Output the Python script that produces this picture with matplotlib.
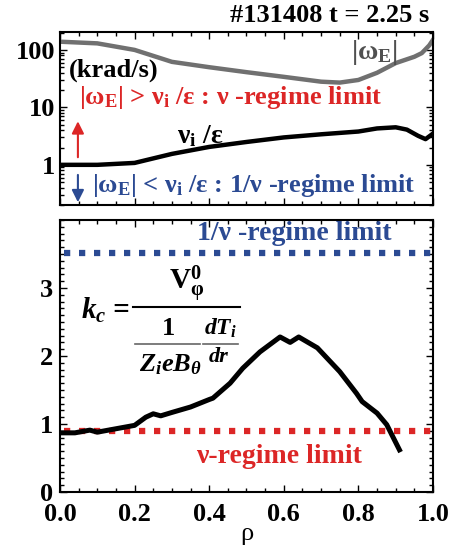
import numpy as np
import matplotlib
matplotlib.use("Agg")
import matplotlib.pyplot as plt
from matplotlib.ticker import MultipleLocator, LogLocator, NullFormatter

plt.rcParams['font.family'] = ['Liberation Serif', 'DejaVu Serif']
plt.rcParams['font.weight'] = 'bold'
plt.rcParams['mathtext.fontset'] = 'stix'

# top panel: |omega_E| and nu_i/eps (krad/s)
rho_we = [0.0, 0.1, 0.2, 0.3, 0.4, 0.5, 0.6, 0.7, 0.75, 0.8, 0.85, 0.9, 0.95, 0.97, 0.99, 1.0]
omega_e = [139, 130, 100, 62, 50, 41, 34, 28, 27, 30, 40, 59, 76, 88, 120, 150]

rho_nu = [0.0, 0.1, 0.2, 0.3, 0.4, 0.5, 0.6, 0.7, 0.8, 0.85, 0.9, 0.93, 0.96, 0.98, 1.0]
nu_eps = [1.0, 1.0, 1.08, 1.55, 2.05, 2.5, 3.0, 3.4, 3.8, 4.3, 4.5, 4.1, 3.2, 2.8, 3.5]

# bottom panel: k_c
rho_kc = [0.0, 0.04, 0.08, 0.1, 0.15, 0.2, 0.23, 0.25, 0.27, 0.3, 0.35, 0.4, 0.41,
          0.456, 0.49, 0.536, 0.59, 0.617, 0.64, 0.69, 0.75, 0.795, 0.81, 0.85, 0.876, 0.91]
kc = [0.87, 0.87, 0.91, 0.88, 0.93, 0.98, 1.1, 1.15, 1.12, 1.17, 1.25, 1.36, 1.38,
      1.6, 1.82, 2.06, 2.28, 2.2, 2.28, 2.12, 1.77, 1.45, 1.33, 1.16, 0.99, 0.62]
kc_1nu = 3.52
kc_nu = 0.9

red = '#dc2626'
blue = '#2b4a93'

fig = plt.figure(figsize=(4.6, 5.48), dpi=100)
ax1 = fig.add_axes([60/460, (548-205)/548, 373/460, 173/548])
ax2 = fig.add_axes([60/460, (548-492)/548, 373/460, 272/548])

for ax in (ax1, ax2):
    for s in ax.spines.values():
        s.set_linewidth(1.5)
    ax.tick_params(which='both', direction='in', top=True, right=True, width=1)
    ax.tick_params(which='major', length=5, labelsize=19)
    ax.tick_params(which='minor', length=3)
    ax.set_xlim(0, 1)
    ax.xaxis.set_major_locator(MultipleLocator(0.2))
    ax.xaxis.set_minor_locator(MultipleLocator(0.05))

ax1.set_yscale('log')
ax1.set_ylim(0.2, 205)
ax1.yaxis.set_minor_locator(LogLocator(base=10, subs=np.arange(2, 10), numticks=10))
ax1.yaxis.set_minor_formatter(NullFormatter())
ax1.set_yticks([1, 10, 100])
ax1.set_yticklabels(['1', '10', '100'])
ax1.set_xticklabels([])

ax1.plot(rho_we, omega_e, color='#707070', lw=3.2)
ax1.plot(rho_nu, nu_eps, color='black', lw=3.2)

ax1.text(0.025, 0.78, '(krad/s)', transform=ax1.transAxes, fontsize=19, va='center')
ax1.text(0.78, 0.88, r'|$\mathregular{\omega_E}$|', transform=ax1.transAxes,
         fontsize=20, color='#505050', va='center')
ax1.text(0.315, 0.40, r'$\mathregular{\nu_i}$ /ε', transform=ax1.transAxes,
         fontsize=20, va='center')
ax1.text(0.052, 0.62, r'|$\mathregular{\omega_E}$| > $\mathregular{\nu_i}$ /ε : ν -regime limit',
         transform=ax1.transAxes, fontsize=19, color=red, va='center')
ax1.text(0.085, 0.11, r'|$\mathregular{\omega_E}$| < $\mathregular{\nu_i}$ /ε : 1/ν -regime limit',
         transform=ax1.transAxes, fontsize=19, color=blue, va='center')
ax1.annotate('', xy=(0.048, 0.50), xytext=(0.048, 0.26), xycoords='axes fraction',
             arrowprops=dict(arrowstyle='-|>', color=red, lw=1.5, mutation_scale=18))
ax1.annotate('', xy=(0.048, 0.0), xytext=(0.048, 0.19), xycoords='axes fraction',
             arrowprops=dict(arrowstyle='-|>', color=blue, lw=1.5, mutation_scale=18))
ax1.text(0.99, 1.03, '#131408 t = 2.25 s', transform=ax1.transAxes, fontsize=19,
         ha='right', va='bottom')

ax2.set_ylim(0, 4)
ax2.yaxis.set_major_locator(MultipleLocator(1))
ax2.yaxis.set_minor_locator(MultipleLocator(0.1))
ax2.set_xticks([0, 0.2, 0.4, 0.6, 0.8, 1.0])
ax2.set_xticklabels(['0.0', '0.2', '0.4', '0.6', '0.8', '1.0'])
ax2.set_yticks([0, 1, 2, 3])
ax2.tick_params(axis='x', which='major', pad=8)
ax2.tick_params(axis='y', which='major', pad=5)

ax2.axhline(kc_1nu, xmin=0.01, color=blue, lw=4.5, dashes=(1, 1.4), dash_capstyle='butt')
ax2.axhline(kc_nu, xmin=0.01, color=red, lw=4.5, dashes=(1, 1.4), dash_capstyle='butt')
ax2.plot(rho_kc, kc, color='black', lw=3.6)

ax2.text(0.368, 0.952, '1/ν -regime limit', transform=ax2.transAxes, fontsize=20,
         color=blue, va='center')
ax2.text(0.365, 0.129, 'ν-regime limit', transform=ax2.transAxes, fontsize=20,
         color=red, va='center')

# k_c formula, built from pieces
tr = ax2.transAxes
ax2.text(0.055, 0.668, r'$\mathregular{k_c}$ =', transform=tr, fontsize=21,
         style='italic', va='center')
ax2.text(0.34, 0.765, r'$\mathregular{V_{φ}^{0}}$', transform=tr, fontsize=21,
         ha='center', va='center')
ax2.plot([0.196, 0.483], [0.68, 0.68], transform=tr, color='black', lw=1.5)
ax2.text(0.29, 0.6, '1', transform=tr, fontsize=19, ha='center', va='center')
ax2.plot([0.201, 0.375], [0.544, 0.544], transform=tr, color='#666666', lw=1.2)
ax2.text(0.295, 0.468, r'$\mathregular{Z_i eB_{θ}}$', transform=tr, fontsize=19,
         style='italic', ha='center', va='center')
ax2.text(0.43, 0.6, r'$\mathregular{dT_{i}}$', transform=tr, fontsize=17,
         style='italic', ha='center', va='center')
ax2.plot([0.383, 0.477], [0.544, 0.544], transform=tr, color='#666666', lw=1.2)
ax2.text(0.424, 0.495, 'dr', transform=tr, fontsize=16, style='italic',
         ha='center', va='center')

ax2.set_xlabel('ρ', fontsize=19, labelpad=-2)

fig.savefig('out.png', dpi=100)
